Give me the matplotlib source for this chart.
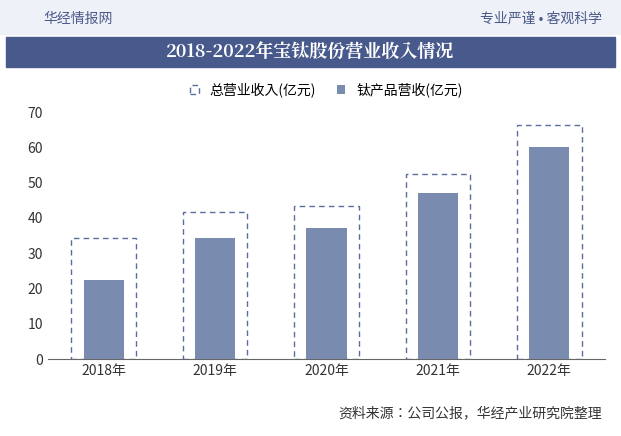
import matplotlib
matplotlib.use("Agg")
import matplotlib.pyplot as plt
from matplotlib.patches import Rectangle
from matplotlib import font_manager as fm

names = sorted({f.name for f in fm.fontManager.ttflist if "CJK" in f.name})
def pick(*prefs):
    for p in prefs:
        for n in names:
            if p in n:
                return n
    return names[0] if names else "DejaVu Sans"
sans = pick("Sans CJK SC", "Sans CJK")
serif = pick("Serif CJK SC", "Serif CJK", "Sans CJK SC")
plt.rcParams["font.family"] = [sans, "DejaVu Sans"]
plt.rcParams["axes.unicode_minus"] = False

years = ["2018年", "2019年", "2020年", "2021年", "2022年"]
total_rev = [34.3, 41.7, 43.4, 52.4, 66.2]
ti_rev = [22.5, 34.2, 37.0, 47.1, 60.2]
yticks = [0, 10, 20, 30, 40, 50, 60, 70]

fig = plt.figure(figsize=(6.21, 4.36), dpi=100)
fig.patch.set_facecolor("white")

fig.add_artist(Rectangle((0, 1 - 34/436), 1, 34/436, transform=fig.transFigure, color="#eef1f7", zorder=0))
fig.text(0.07, 1 - 19/436, "华经情报网", fontsize=10, color="#4a5a8a", va="center")
fig.text(0.97, 1 - 19/436, "专业严谨 • 客观科学", fontsize=10, color="#4a5a8a", va="center", ha="right")
fig.add_artist(Rectangle((0.01, 1 - 67/436), 0.98, 30/436, transform=fig.transFigure, color="#485a8c", zorder=0))
fig.text(0.5, 1 - 52/436, "2018-2022年宝钛股份营业收入情况", fontsize=13, color="white",
         va="center", ha="center", fontweight="bold", family=serif)
fig.text(0.97, 1 - 413/436, "资料来源：公司公报，华经产业研究院整理", fontsize=10, color="#333333",
         va="center", ha="right")

ax = fig.add_axes([48/621, 1 - 359/436, 557/621, 247/436])
x = range(len(years))
ax.bar(x, total_rev, width=0.58, fill=False, edgecolor="#5b6d9e", linestyle=(0, (4, 3)),
       linewidth=1, label="总营业收入(亿元)", zorder=2)
ax.bar(x, ti_rev, width=0.36, color="#7a8bb0", label="钛产品营收(亿元)", zorder=3)
ax.set_xlim(-0.5, len(years) - 0.5)
ax.set_ylim(0, 70)
ax.set_yticks(yticks)
ax.set_xticks(list(x))
ax.set_xticklabels(years)
ax.tick_params(labelsize=10, colors="#333333", length=0)
for s in ["top", "right", "left"]:
    ax.spines[s].set_visible(False)
ax.spines["bottom"].set_color("#666666")
ax.legend(loc="lower center", bbox_to_anchor=(0.5, 1.01), ncol=2, frameon=False, fontsize=10,
          handlelength=0.6, handleheight=0.6, columnspacing=1.5)
fig.savefig("out.png", dpi=100)
